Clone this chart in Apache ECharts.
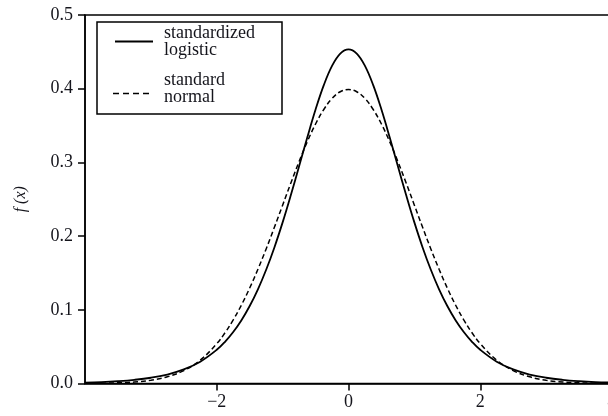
<!DOCTYPE html>
<html>
<head>
<meta charset="utf-8">
<script src="https://cdn.jsdelivr.net/npm/echarts@6/dist/echarts.min.js"></script>
<style>
  html, body { margin: 0; padding: 0; background: #fff; }
  #chart { width: 608px; height: 416px; }
</style>
</head>
<body>
<div id="chart"></div>
<script>
  // 横轴取值
  const xValues = [-4, -3.75, -3.5, -3.25, -3, -2.75, -2.5, -2.25,
    -2, -1.875, -1.75, -1.625, -1.5, -1.375, -1.25, -1.125, -1, -0.875, -0.75, -0.625, -0.5, -0.375, -0.25, -0.125,
    0, 0.125, 0.25, 0.375, 0.5, 0.625, 0.75, 0.875, 1, 1.125, 1.25, 1.375, 1.5, 1.625, 1.75, 1.875, 2,
    2.25, 2.5, 2.75, 3, 3.25, 3.5, 3.75, 4]
  // 标准化 logistic 密度
  const logisticValues = [0.0013, 0.0020, 0.0032, 0.0050, 0.0078, 0.0122, 0.0191, 0.0296,
    0.0457, 0.0566, 0.0699, 0.0859, 0.1051, 0.1278, 0.1543, 0.1846, 0.2186, 0.2557, 0.2947, 0.3341, 0.3717, 0.4048, 0.4309, 0.4477,
    0.4534, 0.4477, 0.4309, 0.4048, 0.3717, 0.3341, 0.2947, 0.2557, 0.2186, 0.1846, 0.1543, 0.1278, 0.1051, 0.0859, 0.0699, 0.0566, 0.0457,
    0.0296, 0.0191, 0.0122, 0.0078, 0.0050, 0.0032, 0.0020, 0.0013]
  // 标准正态密度
  const normalValues = [0.0001, 0.0004, 0.0009, 0.0020, 0.0044, 0.0091, 0.0175, 0.0317,
    0.0540, 0.0688, 0.0863, 0.1065, 0.1295, 0.1550, 0.1826, 0.2119, 0.2420, 0.2721, 0.3011, 0.3282, 0.3521, 0.3718, 0.3867, 0.3959,
    0.3989, 0.3959, 0.3867, 0.3718, 0.3521, 0.3282, 0.3011, 0.2721, 0.2420, 0.2119, 0.1826, 0.1550, 0.1295, 0.1065, 0.0863, 0.0688, 0.0540,
    0.0317, 0.0175, 0.0091, 0.0044, 0.0020, 0.0009, 0.0004, 0.0001]
  const xTicks = { min: -4, max: 4, interval: 2 }
  const yTicks = { min: 0, max: 0.5, interval: 0.1 }

  const font = "'Liberation Serif', 'DejaVu Serif', serif"
  const ink = '#15151c'

  const pairs = (ys) => xValues.map((x, i) => [x, ys[i]])

  const myChart = echarts.init(document.getElementById('chart'))
  myChart.setOption({
    animation: false,
    // 右边框在画布外，只露出上边框
    grid: {
      left: 85,
      top: 15,
      bottom: 32.5,
      width: 527,
      outerBoundsMode: 'none',
      containLabel: false,
      show: true,
      borderColor: '#000',
      borderWidth: 1.5
    },
    xAxis: {
      type: 'value',
      min: xTicks.min,
      max: xTicks.max,
      interval: xTicks.interval,
      axisLine: { onZero: false, lineStyle: { color: '#000', width: 1.5 } },
      axisTick: { show: true, length: 7, lineStyle: { color: '#000', width: 1.5 } },
      axisLabel: {
        showMinLabel: false,
        color: ink,
        fontFamily: font,
        fontSize: 18,
        margin: 10,
        formatter: (v) => String(v).replace('-', '\u2212')
      },
      splitLine: { show: false }
    },
    yAxis: {
      type: 'value',
      min: yTicks.min,
      max: yTicks.max,
      interval: yTicks.interval,
      name: 'f (x)',
      nameLocation: 'middle',
      nameGap: 56,
      nameRotate: 90,
      nameTextStyle: {
        color: ink,
        fontFamily: font,
        fontSize: 16,
        fontStyle: 'italic'
      },
      axisLine: { show: true, onZero: false, lineStyle: { color: '#000', width: 1.5 } },
      axisTick: { show: true, length: 7, lineStyle: { color: '#000', width: 1.5 } },
      axisLabel: {
        color: ink,
        fontFamily: font,
        fontSize: 18,
        margin: 12,
        formatter: (v) => v.toFixed(1)
      },
      splitLine: { show: false }
    },
    series: [
      {
        name: 'standardized logistic',
        type: 'line',
        smooth: 0.4,
        showSymbol: false,
        lineStyle: { color: '#000', width: 1.8 },
        data: pairs(logisticValues)
      },
      {
        name: 'standard normal',
        type: 'line',
        smooth: 0.4,
        showSymbol: false,
        lineStyle: { color: '#000', width: 1.5, type: [5, 3] },
        data: pairs(normalValues)
      }
    ],
    // 图例框，用 graphic 画
    graphic: [
      { type: 'rect', shape: { x: 97, y: 22, width: 185, height: 92 }, style: { fill: '#fff', stroke: '#000', lineWidth: 1.5 }, z: 10 },
      { type: 'line', shape: { x1: 115, y1: 41.5, x2: 153, y2: 41.5 }, style: { stroke: '#000', lineWidth: 1.8 }, z: 11 },
      { type: 'line', shape: { x1: 113, y1: 93.5, x2: 151, y2: 93.5 }, style: { stroke: '#000', lineWidth: 1.5, lineDash: [6, 4] }, z: 11 },
      { type: 'text', x: 164, y: 25, style: { text: 'standardized\nlogistic', font: '18px ' + font, fill: ink, lineHeight: 17 }, z: 11 },
      { type: 'text', x: 164, y: 72, style: { text: 'standard\nnormal', font: '18px ' + font, fill: ink, lineHeight: 17 }, z: 11 }
    ]
  })
</script>
</body>
</html>
